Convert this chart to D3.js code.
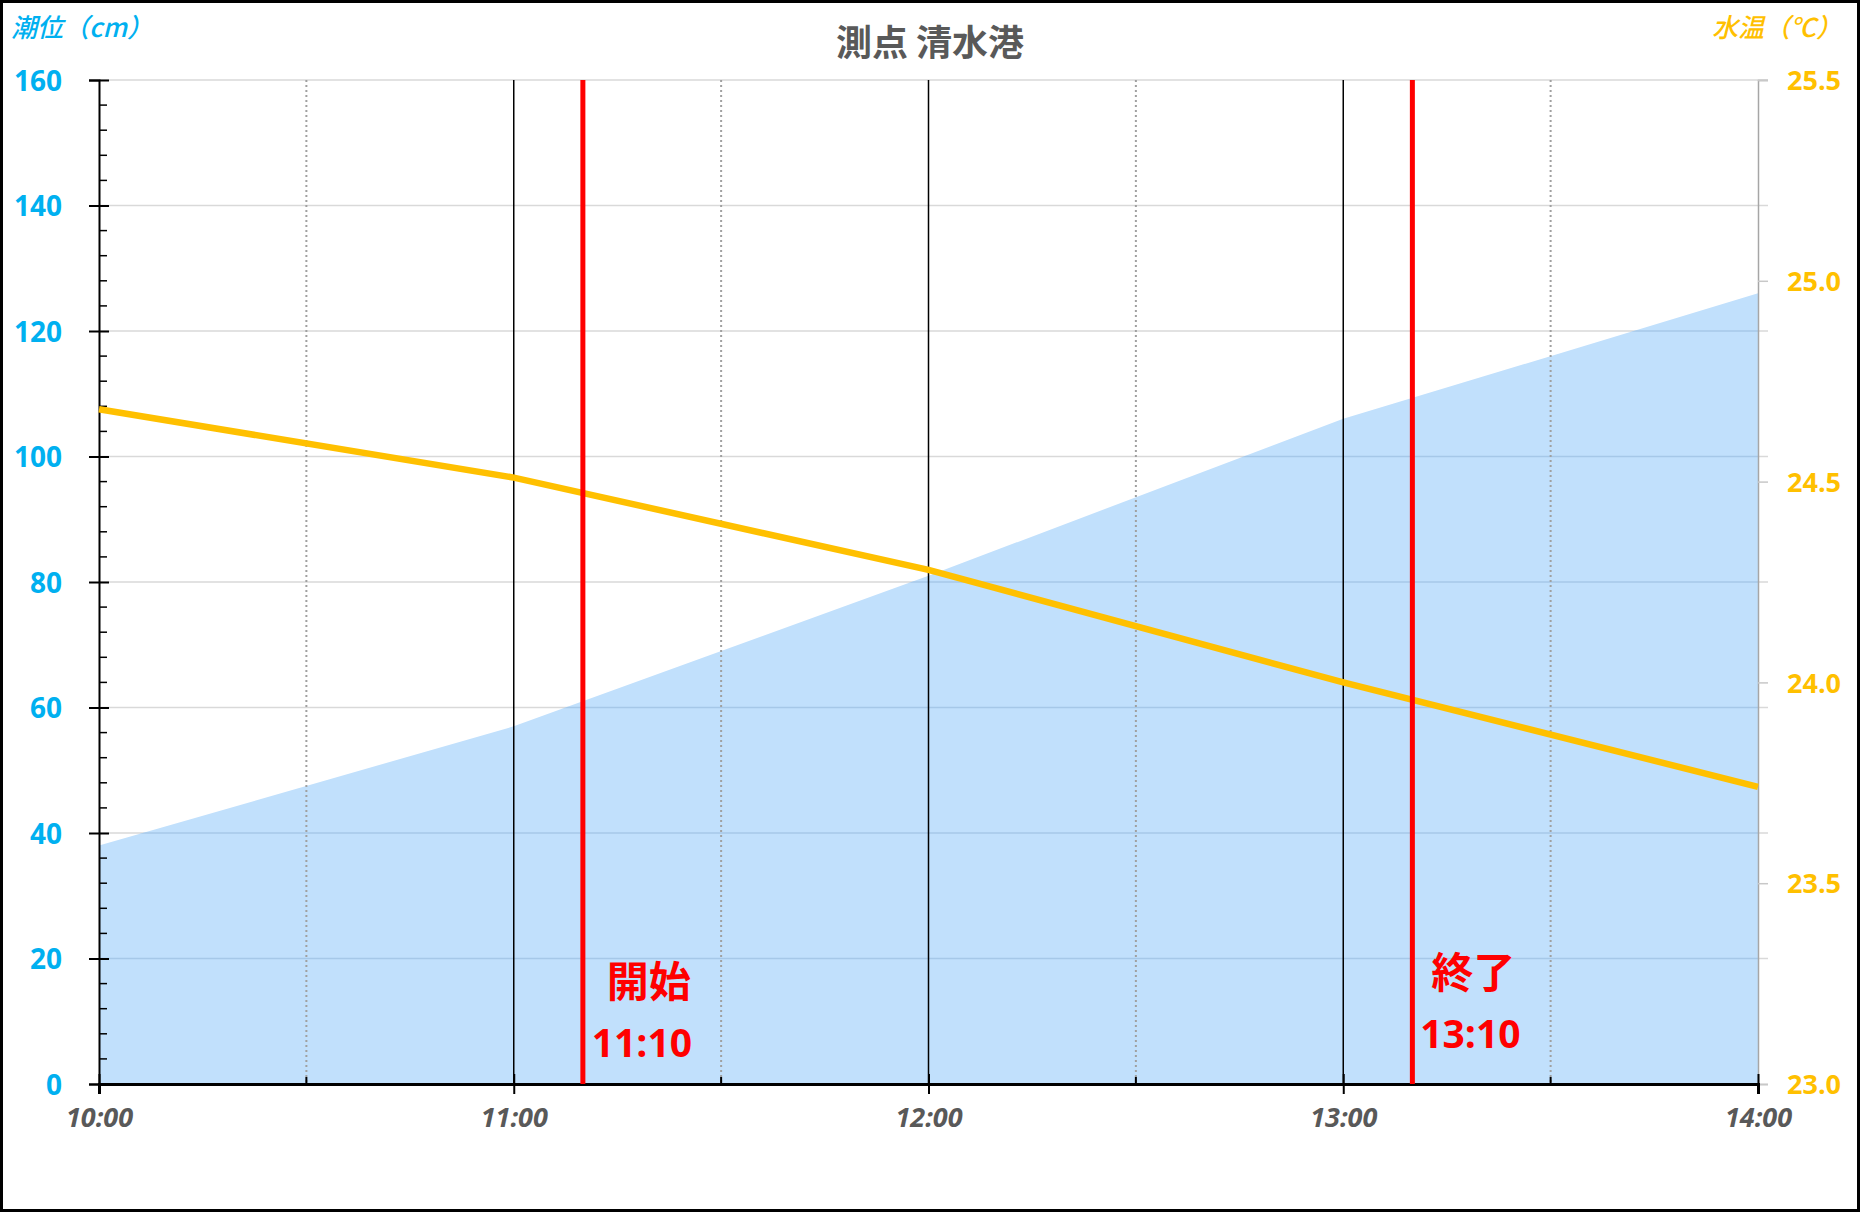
<!DOCTYPE html>
<html>
<head>
<meta charset="utf-8">
<script src="https://cdn.jsdelivr.net/npm/d3@7"></script>
<style>
  body { margin: 0; background: #fff; }
  svg { display: block; }
</style>
</head>
<body>
<div id="chart"></div>
<script>
// hourly readings, 潮位 (cm) and 水温 (℃)
const times = ['10:00', '11:00', '12:00', '13:00', '14:00']
const tide = [38, 57, 81, 106, 126]
const temp = [24.68, 24.51, 24.28, 24.0, 23.74]

// survey start / end markers
const markers = ['11:10', '13:10']
const markerNames = ['開始', '終了']

const tideTicks = [0, 20, 40, 60, 80, 100, 120, 140, 160]
const tempTicks = [23.0, 23.5, 24.0, 24.5, 25.0, 25.5]

const width = 1861
const height = 1220
const margin = { top: 80, right: 103, bottom: 136, left: 99 }

const parse = d3.timeParse('%H:%M')
const fmt = d3.timeFormat('%H:%M')

const blue = '#00B0F0'
const orange = '#FFC000'
const gray = '#595959'
const jp = '"Noto Sans CJK JP", "Noto Sans", sans-serif'
const num = '"Open Sans", "Noto Sans", sans-serif'

const svg = d3.select('#chart')
  .append('svg')
  .attr('width', width)
  .attr('height', height)

const x = d3.scaleTime()
  .domain([parse('10:00'), parse('14:00')])
  .range([margin.left, width - margin.right])

const yL = d3.scaleLinear()
  .domain([0, 160])
  .range([height - margin.bottom, margin.top])

const yR = d3.scaleLinear()
  .domain([23, 25.5])
  .range([height - margin.bottom, margin.top])

const rows = times.map((t, i) => ({ t: parse(t), tide: tide[i], temp: temp[i] }))

const area = d3.area()
  .x(d => x(d.t))
  .y0(yL(0))
  .y1(d => yL(d.tide))

svg.append('clipPath')
  .attr('id', 'tide-clip')
  .append('path')
  .datum(rows)
  .attr('d', area)

// outer frame
svg.append('rect')
  .attr('x', 1.5).attr('y', 1.5)
  .attr('width', width - 4).attr('height', 1209)
  .attr('fill', 'none')
  .attr('stroke', '#000')
  .attr('stroke-width', 3)

// horizontal grid
svg.append('g')
  .selectAll('line')
  .data(tideTicks.slice(1))
  .join('line')
  .attr('x1', margin.left).attr('x2', width - margin.right + 10)
  .attr('y1', d => yL(d)).attr('y2', d => yL(d))
  .attr('stroke', '#D9D9D9')
  .attr('stroke-width', 1.5)

// tide area
svg.append('path')
  .datum(rows)
  .attr('fill', '#C1E0FC')
  .attr('d', area)

// grid lines seen through the area
svg.append('g')
  .attr('clip-path', 'url(#tide-clip)')
  .selectAll('line')
  .data(tideTicks.slice(1, -1))
  .join('line')
  .attr('x1', margin.left).attr('x2', width - margin.right)
  .attr('y1', d => yL(d)).attr('y2', d => yL(d))
  .attr('stroke', '#A6C8E8')
  .attr('stroke-width', 1.5)

// vertical grid: solid at hours, dotted at half hours
const halfHours = x.ticks(d3.timeMinute.every(30)).filter(d => d.getMinutes() === 30)
const hours = x.ticks(d3.timeHour.every(1)).slice(1, -1)

svg.append('g')
  .selectAll('line')
  .data(halfHours)
  .join('line')
  .attr('x1', d => x(d)).attr('x2', d => x(d))
  .attr('y1', margin.top).attr('y2', height - margin.bottom)
  .attr('stroke', '#A0A0A0')
  .attr('stroke-width', 2)
  .attr('stroke-dasharray', '2,3')

svg.append('g')
  .selectAll('line')
  .data(hours)
  .join('line')
  .attr('x1', d => x(d)).attr('x2', d => x(d))
  .attr('y1', margin.top).attr('y2', height - margin.bottom)
  .attr('stroke', '#000')
  .attr('stroke-width', 1.5)

// right axis (gray)
const right = svg.append('g')
  .attr('transform', `translate(${width - margin.right},0)`)
  .call(d3.axisRight(yR).tickValues(tempTicks).tickSize(10).tickFormat(d3.format('.1f')))
right.select('.domain').attr('stroke', '#A6A6A6').attr('stroke-width', 1.5)
right.selectAll('.tick line').attr('stroke', '#C8C8C8').attr('stroke-width', 1.5)
right.selectAll('.tick text')
  .attr('x', 29)
  .attr('dy', '0.36em')
  .attr('fill', orange)
  .style('font-family', num)
  .style('font-weight', 700)
  .style('font-size', '27px')

// left axis
const left = svg.append('g')
  .attr('transform', `translate(${margin.left},0)`)
  .call(d3.axisLeft(yL).tickValues(tideTicks).tickSize(10).tickFormat(d3.format('d')))
left.select('.domain').attr('stroke', '#000').attr('stroke-width', 2)
left.selectAll('.tick line').attr('stroke', '#000').attr('stroke-width', 2).attr('x2', 10).attr('x1', -10)
left.selectAll('.tick text')
  .attr('x', -37)
  .attr('dy', '0.36em')
  .attr('fill', blue)
  .style('font-family', num)
  .style('font-weight', 700)
  .style('font-size', '28px')

// left minor ticks, inward
svg.append('g')
  .selectAll('line')
  .data(d3.range(0, 161, 4).filter(v => v % 20 !== 0))
  .join('line')
  .attr('x1', margin.left).attr('x2', margin.left + 8)
  .attr('y1', d => yL(d)).attr('y2', d => yL(d))
  .attr('stroke', '#000')
  .attr('stroke-width', 1.5)

// bottom axis
const bottom = svg.append('g')
  .attr('transform', `translate(0,${height - margin.bottom})`)
  .call(d3.axisBottom(x).ticks(d3.timeHour.every(1)).tickSize(10).tickFormat(fmt))
bottom.select('.domain').attr('stroke', '#000').attr('stroke-width', 3)
bottom.selectAll('.tick line').attr('stroke', '#000').attr('stroke-width', 2).attr('y1', -10)
bottom.selectAll('.tick text')
  .attr('y', 24)
  .attr('dy', '0.71em')
  .attr('fill', gray)
  .style('font-family', num)
  .style('font-weight', 700)
  .style('font-style', 'italic')
  .style('font-size', '27px')

svg.append('g')
  .selectAll('line')
  .data(halfHours)
  .join('line')
  .attr('x1', d => x(d)).attr('x2', d => x(d))
  .attr('y1', height - margin.bottom).attr('y2', height - margin.bottom - 7)
  .attr('stroke', '#000')
  .attr('stroke-width', 2)

// water temperature
svg.append('path')
  .datum(rows)
  .attr('fill', 'none')
  .attr('stroke', orange)
  .attr('stroke-width', 6.5)
  .attr('d', d3.line()
    .x(d => x(d.t))
    .y(d => yR(d.temp)))

// start / end markers
const mk = svg.append('g')
  .selectAll('g')
  .data(markers.map((m, i) => ({ t: parse(m), label: m, name: markerNames[i] })))
  .join('g')
  .attr('transform', d => `translate(${x(d.t)},0)`)

mk.append('line')
  .attr('y1', margin.top).attr('y2', height - margin.bottom)
  .attr('stroke', '#FF0000')
  .attr('stroke-width', 5)

mk.append('text')
  .attr('x', (d, i) => i === 0 ? 66 : 61)
  .attr('y', (d, i) => i === 0 ? 997 : 988)
  .attr('text-anchor', 'middle')
  .attr('fill', '#FF0000')
  .style('font-family', jp)
  .style('font-weight', 700)
  .style('font-size', '42px')
  .text(d => d.name)

mk.append('text')
  .attr('x', (d, i) => i === 0 ? 59 : 58)
  .attr('y', (d, i) => i === 0 ? 1057 : 1048)
  .attr('text-anchor', 'middle')
  .attr('fill', '#FF0000')
  .style('font-family', num)
  .style('font-weight', 700)
  .style('font-size', '39px')
  .text(d => d.label)

// titles
svg.append('text')
  .attr('x', 930).attr('y', 56)
  .attr('text-anchor', 'middle')
  .attr('fill', gray)
  .style('font-family', jp)
  .style('font-weight', 700)
  .style('font-size', '36px')
  .text('測点 清水港')

svg.append('text')
  .attr('x', 11).attr('y', 37)
  .attr('fill', blue)
  .style('font-family', jp)
  .style('font-style', 'italic')
  .style('font-weight', 500)
  .style('font-size', '26px')
  .text('潮位（cm）')

svg.append('text')
  .attr('x', 1842).attr('y', 37)
  .attr('text-anchor', 'end')
  .attr('fill', orange)
  .style('font-family', jp)
  .style('font-style', 'italic')
  .style('font-weight', 500)
  .style('font-size', '26px')
  .text('水温（℃）')
</script>
</body>
</html>
